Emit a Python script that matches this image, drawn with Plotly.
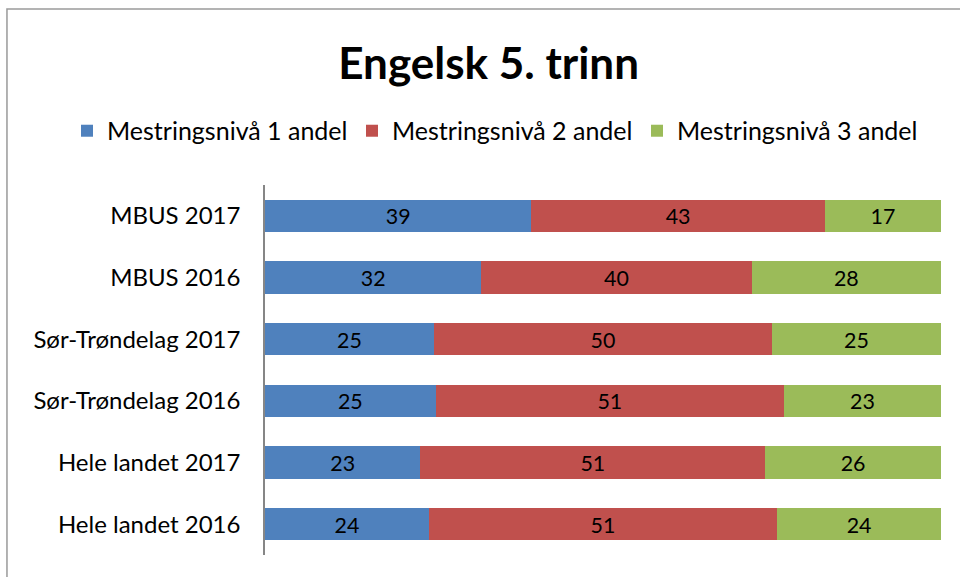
import plotly.graph_objects as go

categories = ["MBUS 2017", "MBUS 2016", "Sør-Trøndelag 2017", "Sør-Trøndelag 2016",
              "Hele landet 2017", "Hele landet 2016"]
niva1 = [39, 32, 25, 25, 23, 24]
niva2 = [43, 40, 50, 51, 51, 51]
niva3 = [17, 28, 25, 23, 26, 24]
series_names = ["Mestringsnivå 1 andel", "Mestringsnivå 2 andel", "Mestringsnivå 3 andel"]
colors = ["#4F81BD", "#C0504D", "#9BBB59"]

FONT = "Lato, Calibri, sans-serif"
fig = go.Figure()
for name, vals, col in zip(series_names, [niva1, niva2, niva3], colors):
    fig.add_trace(go.Bar(
        y=categories, x=vals, name=name, orientation="h",
        marker=dict(color=col, line=dict(width=0)),
        text=[str(v) for v in vals], textposition="inside",
        insidetextanchor="middle", textangle=0,
        textfont=dict(color="black", size=23, family=FONT),
    ))

fig.update_layout(
    barmode="stack", barnorm="percent", bargap=0.48,
    width=960, height=577,
    margin=dict(l=265, r=19, t=185, b=22, autoexpand=False),
    paper_bgcolor="white", plot_bgcolor="white",
    font=dict(family=FONT, color="black", size=24),
    title=dict(text="<b>Engelsk 5. trinn</b>", x=0.509, xanchor="center",
               y=0.89, yanchor="middle", yref="container",
               font=dict(size=44, family=FONT, color="black")),
    legend=dict(orientation="h", x=-0.2929, xanchor="left", y=1.146, yanchor="middle",
                xref="paper", yref="paper",
                font=dict(size=25, family=FONT), traceorder="normal",
                itemsizing="constant", itemwidth=30,
                entrywidth=240, entrywidthmode="pixels"),
    showlegend=True,
    uniformtext=dict(mode=False),
    shapes=[dict(type="rect", xref="paper", yref="paper",
                 x0=-0.3817, x1=1.2, y0=-0.3, y1=1.4757,
                 line=dict(color="#9a9a9a", width=1.5), layer="below")],
)
fig.update_xaxes(range=[0, 100], visible=False, showgrid=False)
fig.update_yaxes(autorange="reversed", showline=True, linecolor="#868686", linewidth=1.5,
                 ticks="", showgrid=False, automargin=False, ticklabelstandoff=18,
                 tickfont=dict(size=24, family=FONT, color="black"))

fig.write_html("out.html", config={"displayModeBar": False},
               post_script="document.body.style.margin='0';")
